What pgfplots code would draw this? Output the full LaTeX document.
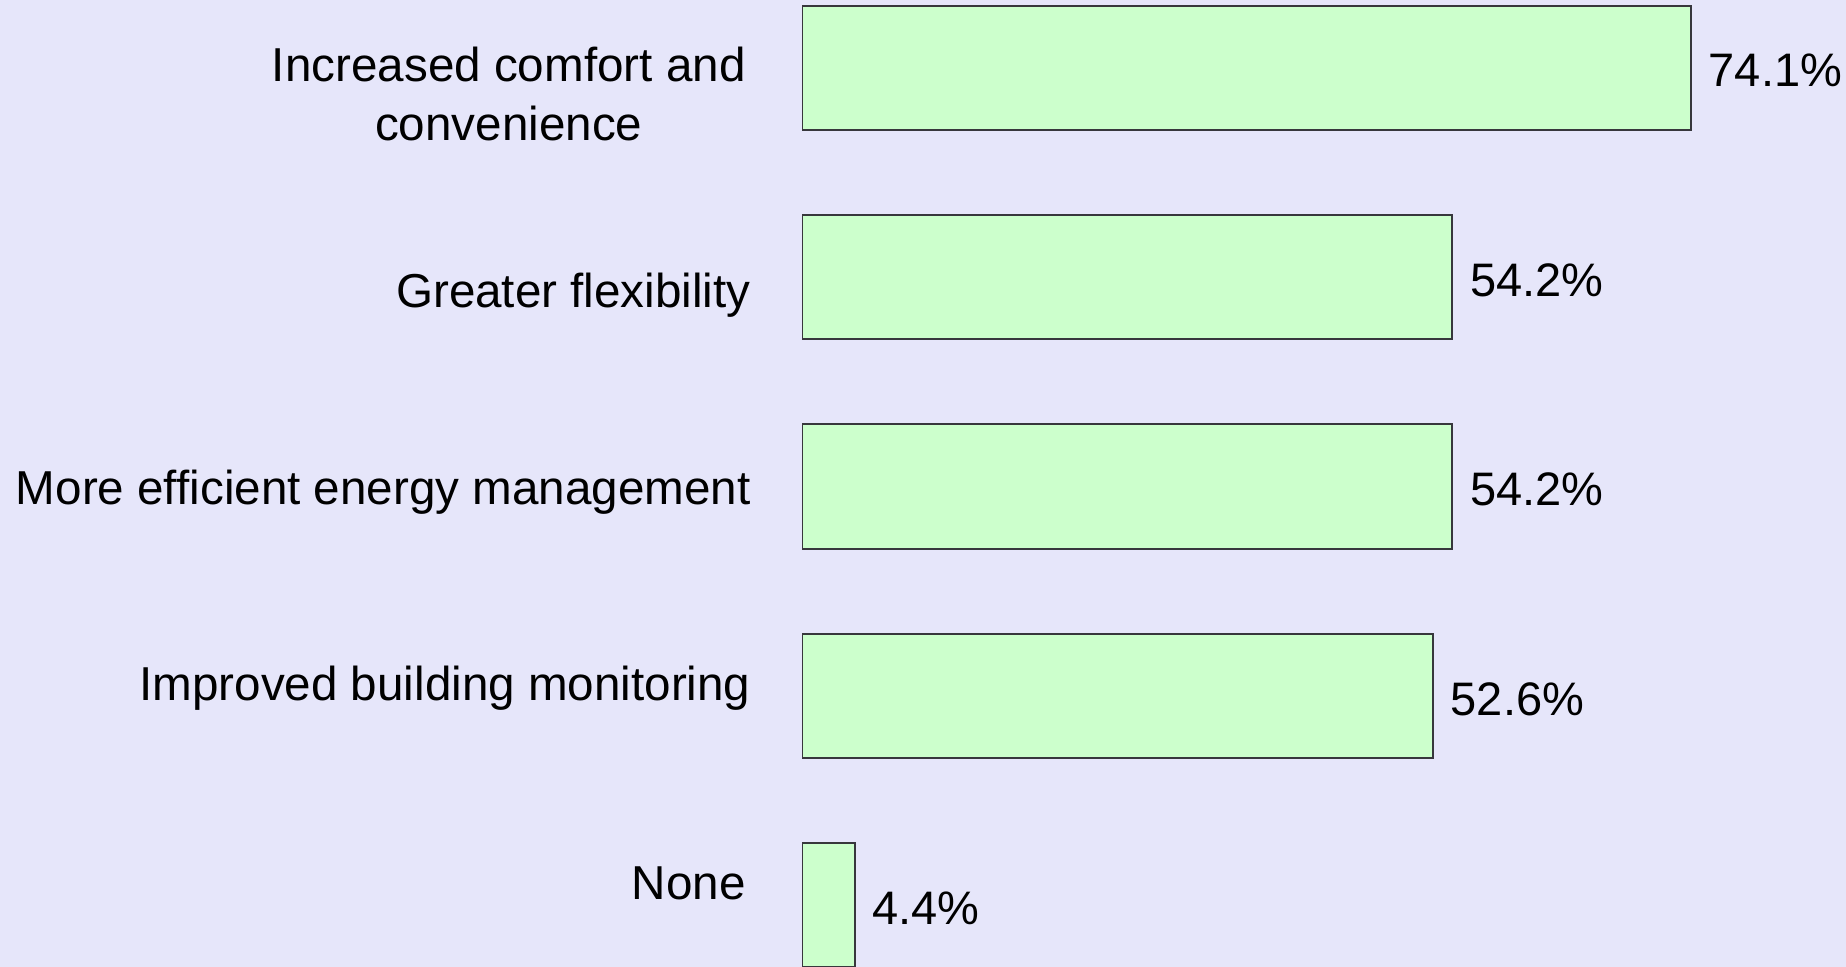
\documentclass[border=0pt]{standalone}
\usepackage{pgfplots}
\pgfplotsset{compat=1.18}
\usepackage{fontspec}
\setmainfont{Liberation Sans}
\definecolor{bgcol}{RGB}{230,230,250}
\definecolor{barfill}{RGB}{204,255,204}
\definecolor{baredge}{RGB}{55,55,60}
\begin{document}
\begin{tikzpicture}
\useasboundingbox (0,0) rectangle (923pt,483.5pt);
\fill[bgcol] (0,0) rectangle (923pt,483.5pt);
\begin{axis}[
  at={(401pt,0pt)}, anchor=south west,
  scale only axis, width=522pt, height=483.5pt,
  xbar, y dir=reverse,
  xmin=0, xmax=87,
  ymin=-0.3230, ymax=4.2950,
  bar width=0.593,
  axis line style={draw=none},
  xtick=\empty,
  ytick={0.151,1.085,2.027,2.965,3.895},
  yticklabels={{\begin{tabular}{@{}c@{}}Increased comfort and\\convenience\end{tabular}\hspace*{2.5pt}},{Greater flexibility},{More efficient energy management},{Improved building monitoring},{None\hspace*{2.5pt}}},
  major tick length=0pt,
  tick style={draw=none},
  yticklabel style={anchor=east, align=center, inner sep=0pt, xshift=-25.5pt, font=\fontsize{23.8}{29.5}\selectfont},
  point meta=x,
  nodes near coords={\pgfmathprintnumber[fixed,fixed zerofill,precision=1,assume math mode=true]{\pgfplotspointmeta}\%},
  nodes near coords style={anchor=west, inner sep=0pt, xshift=8.3pt, yshift=-1.5pt, font=\fontsize{23.5}{29}\selectfont},
  /pgf/number format/assume math mode=true,
]
\addplot[fill=barfill, draw=baredge, line width=1pt] coordinates {
  (74.1,0) (54.2,1) (54.2,2) (52.6,3) (4.4,4)
};
\end{axis}
\end{tikzpicture}
\end{document}
